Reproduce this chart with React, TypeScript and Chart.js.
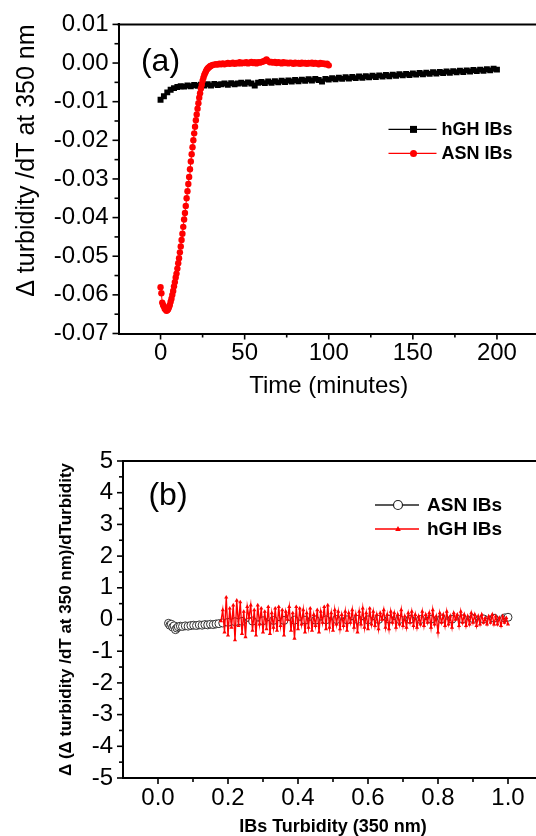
import React, { useEffect, useRef } from 'react';
import { Chart, registerables } from 'chart.js';

Chart.register(...registerables);

const FONT = "Arial, 'Liberation Sans', Helvetica, sans-serif";
const RED = '#ff0000';
const BLACK = '#000000';

// ---------------- Panel (a) ----------------
const timeHGH_A = [0, 2, 4, 6, 8, 10, 12, 14, 16, 18, 20, 22, 24, 26, 28, 30, 32, 34, 36, 38, 40, 42, 44, 46, 48, 50, 52, 54, 56, 58, 60, 62, 64, 66, 68, 70, 72, 74, 76, 78, 80, 82, 84, 86, 88, 90, 92, 94, 96, 98, 100, 102, 104, 106, 108, 110, 112, 114, 116, 118, 120, 122, 124, 126, 128, 130, 132, 134, 136, 138, 140, 142, 144, 146, 148, 150, 152, 154, 156, 158, 160, 162, 164, 166, 168, 170, 172, 174, 176, 178, 180, 182, 184, 186, 188, 190, 192, 194, 196, 198, 200];
const hghA = [-0.0095, -0.0086, -0.0076, -0.0069, -0.0065, -0.0062, -0.0060, -0.0061, -0.0058, -0.0060, -0.0057, -0.0059, -0.0056, -0.0058, -0.0055, -0.0058, -0.0054, -0.0057, -0.0055, -0.0053, -0.0056, -0.0052, -0.0055, -0.0053, -0.0051, -0.0054, -0.0050, -0.0053, -0.0058, -0.0051, -0.0049, -0.0052, -0.0048, -0.0051, -0.0047, -0.0050, -0.0046, -0.0049, -0.0045, -0.0048, -0.0044, -0.0047, -0.0043, -0.0046, -0.0042, -0.0045, -0.0041, -0.0044, -0.0048, -0.0041, -0.0043, -0.0039, -0.0042, -0.0038, -0.0041, -0.0037, -0.0040, -0.0036, -0.0039, -0.0035, -0.0038, -0.0034, -0.0037, -0.0033, -0.0036, -0.0032, -0.0035, -0.0031, -0.0034, -0.0030, -0.0033, -0.0029, -0.0032, -0.0028, -0.0031, -0.0027, -0.0030, -0.0026, -0.0029, -0.0025, -0.0028, -0.0024, -0.0027, -0.0023, -0.0026, -0.0022, -0.0025, -0.0021, -0.0024, -0.0020, -0.0023, -0.0019, -0.0022, -0.0018, -0.0021, -0.0017, -0.0020, -0.0016, -0.0019, -0.0015, -0.0017];
const timeASN_A = [0, 0.5, 1, 1.5, 2, 2.5, 3, 3.5, 4, 4.5, 5, 5.5, 6, 6.5, 7, 7.5, 8, 8.5, 9, 9.5, 10, 10.5, 11, 11.5, 12, 12.5, 13, 13.5, 14, 14.5, 15, 15.5, 16, 16.5, 17, 17.5, 18, 18.5, 19, 19.5, 20, 20.5, 21, 21.5, 22, 22.5, 23, 23.5, 24, 24.5, 25, 25.5, 26, 26.5, 27, 27.5, 28, 28.5, 29, 29.5, 30, 31, 32, 33, 34, 35, 36, 37, 38, 39, 40, 41, 42, 43, 44, 45, 46, 47, 48, 49, 50, 51, 52, 53, 54, 55, 56, 57, 58, 59, 60, 61, 62, 63, 64, 65, 66, 67, 68, 69, 70, 71, 72, 73, 74, 75, 76, 77, 78, 79, 80, 81, 82, 83, 84, 85, 86, 87, 88, 89, 90, 91, 92, 93, 94, 95, 96, 97, 98, 99, 100];
const asnA = [-0.0580, -0.0596, -0.0620, -0.0626, -0.0630, -0.0636, -0.0638, -0.0641, -0.0640, -0.0637, -0.0632, -0.0626, -0.0618, -0.0610, -0.0600, -0.0590, -0.0578, -0.0567, -0.0555, -0.0545, -0.0532, -0.0518, -0.0505, -0.0490, -0.0475, -0.0458, -0.0442, -0.0424, -0.0405, -0.0388, -0.0370, -0.0350, -0.0332, -0.0313, -0.0295, -0.0275, -0.0255, -0.0236, -0.0218, -0.0200, -0.0182, -0.0165, -0.0148, -0.0133, -0.0118, -0.0104, -0.0090, -0.0078, -0.0066, -0.0056, -0.0046, -0.0038, -0.0031, -0.0026, -0.0021, -0.0017, -0.0014, -0.0012, -0.0010, -0.0008, -0.0007, -0.0005, -0.0004, -0.0003, -0.0004, -0.0002, -0.0003, -0.0001, -0.0003, -0.0002, 0.0000, -0.0002, -0.0001, 0.0001, -0.0002, 0.0000, -0.0001, 0.0002, -0.0001, 0.0001, 0.0000, 0.0002, -0.0001, 0.0001, 0.0003, 0.0000, 0.0002, -0.0001, 0.0002, 0.0001, 0.0003, 0.0004, 0.0006, 0.0009, 0.0005, 0.0002, 0.0003, 0.0001, 0.0003, 0.0000, 0.0002, 0.0001, -0.0001, 0.0002, 0.0000, 0.0001, -0.0001, 0.0001, 0.0000, -0.0002, 0.0001, -0.0001, 0.0000, -0.0002, 0.0001, -0.0001, 0.0000, -0.0002, 0.0000, -0.0001, 0.0001, -0.0002, 0.0000, -0.0001, -0.0003, 0.0000, -0.0002, -0.0001, -0.0003, -0.0002, -0.0006];
const xMajorA = [0, 50, 100, 150, 200];
const xMinorA = [25, 75, 125, 175];
const yMajorA = [-0.07, -0.06, -0.05, -0.04, -0.03, -0.02, -0.01, 0, 0.01];
const yMinorA = [-0.065, -0.055, -0.045, -0.035, -0.025, -0.015, -0.005, 0.005];

// ---------------- Panel (b) ----------------
const turbASN_B = [0.030, 0.034, 0.038, 0.042, 0.046, 0.050, 0.054, 0.058, 0.064, 0.070, 0.078, 0.086, 0.094, 0.102, 0.110, 0.118, 0.126, 0.134, 0.142, 0.150, 0.158, 0.166, 0.174, 0.185, 0.200, 0.22, 0.24, 0.27, 0.30, 0.33, 0.36, 0.39, 0.42, 0.45, 0.48, 0.51, 0.54, 0.57, 0.60, 0.63, 0.66, 0.69, 0.72, 0.75, 0.78, 0.81, 0.84, 0.87, 0.90, 0.93, 0.96, 0.99, 1.00];
const asnB = [-0.12, -0.18, -0.15, -0.24, -0.20, -0.32, -0.27, -0.23, -0.21, -0.22, -0.20, -0.21, -0.19, -0.18, -0.19, -0.17, -0.18, -0.16, -0.17, -0.15, -0.16, -0.14, -0.13, -0.11, -0.09, -0.07, -0.06, -0.05, -0.04, -0.03, -0.03, -0.02, -0.02, -0.02, -0.01, 0.00, -0.01, 0.00, -0.01, 0.00, 0.01, 0.00, 0.01, 0.00, 0.01, 0.02, 0.01, 0.02, 0.03, 0.02, 0.04, 0.05, 0.07];
const turbHGH_B = [0.180, 0.185, 0.190, 0.195, 0.200, 0.205, 0.210, 0.215, 0.220, 0.225, 0.230, 0.235, 0.240, 0.245, 0.250, 0.255, 0.260, 0.265, 0.270, 0.275, 0.280, 0.285, 0.290, 0.295, 0.300, 0.305, 0.310, 0.315, 0.320, 0.325, 0.330, 0.335, 0.340, 0.345, 0.350, 0.355, 0.360, 0.365, 0.370, 0.375, 0.380, 0.385, 0.390, 0.395, 0.400, 0.405, 0.410, 0.415, 0.420, 0.425, 0.430, 0.435, 0.440, 0.445, 0.450, 0.455, 0.460, 0.465, 0.470, 0.475, 0.480, 0.485, 0.490, 0.495, 0.500, 0.505, 0.510, 0.515, 0.520, 0.525, 0.530, 0.535, 0.540, 0.545, 0.550, 0.555, 0.560, 0.565, 0.570, 0.575, 0.580, 0.585, 0.590, 0.595, 0.600, 0.605, 0.610, 0.615, 0.620, 0.625, 0.630, 0.635, 0.640, 0.645, 0.650, 0.655, 0.660, 0.665, 0.670, 0.675, 0.680, 0.685, 0.690, 0.695, 0.700, 0.705, 0.710, 0.715, 0.720, 0.725, 0.730, 0.735, 0.740, 0.745, 0.750, 0.755, 0.760, 0.765, 0.770, 0.775, 0.780, 0.785, 0.790, 0.795, 0.800, 0.805, 0.810, 0.815, 0.820, 0.825, 0.830, 0.835, 0.840, 0.845, 0.850, 0.855, 0.860, 0.865, 0.870, 0.875, 0.880, 0.885, 0.890, 0.895, 0.900, 0.905, 0.910, 0.915, 0.920, 0.925, 0.930, 0.935, 0.940, 0.945, 0.950, 0.955, 0.960, 0.965, 0.970, 0.975, 0.980, 0.985, 0.990, 0.995, 1.000];
const hghB = [-0.05, 0.30, -0.40, 0.70, -0.50, 0.35, -0.25, 0.45, -0.65, 0.60, -0.20, 0.55, -0.45, 0.25, -0.55, 0.40, 0.05, 0.45, -0.35, 0.30, -0.50, 0.45, -0.15, 0.35, -0.40, 0.25, -0.30, 0.40, -0.45, 0.20, -0.25, 0.35, -0.35, 0.40, -0.20, 0.30, -0.50, 0.25, 0.00, 0.40, -0.35, 0.20, -0.60, 0.40, -0.30, 0.35, -0.15, 0.30, -0.40, 0.20, -0.25, 0.35, -0.35, 0.15, -0.20, 0.30, -0.40, 0.25, -0.10, 0.40, -0.30, 0.45, -0.25, 0.20, -0.35, 0.30, -0.15, 0.25, -0.30, 0.15, -0.20, 0.25, -0.35, 0.20, -0.10, 0.30, -0.25, 0.15, -0.40, 0.25, -0.15, 0.35, -0.25, 0.20, -0.30, 0.35, -0.15, 0.25, -0.20, 0.15, -0.30, 0.20, 0.00, 0.30, -0.25, 0.15, -0.30, 0.25, -0.10, 0.20, -0.25, 0.15, -0.15, 0.30, -0.20, 0.10, -0.25, 0.20, -0.10, 0.25, -0.20, 0.15, -0.25, 0.10, -0.15, 0.25, -0.20, 0.15, -0.10, 0.20, -0.25, 0.30, -0.15, 0.10, -0.40, 0.20, -0.10, 0.15, -0.20, 0.25, -0.15, 0.10, -0.25, 0.20, 0.00, 0.15, -0.20, 0.25, -0.10, 0.15, -0.20, 0.10, -0.15, 0.20, -0.10, 0.15, -0.20, 0.10, -0.15, 0.15, -0.10, 0.05, -0.15, 0.10, -0.10, 0.15, -0.15, 0.10, -0.15, 0.05, -0.20, 0.10, -0.10, 0.05, -0.15];
const xMajorB = [0, 0.2, 0.4, 0.6, 0.8, 1.0];
const xMinorB = [0.1, 0.3, 0.5, 0.7, 0.9];
const yMajorB = [-5, -4, -3, -2, -1, 0, 1, 2, 3, 4, 5];
const yMinorB = [-4.5, -3.5, -2.5, -1.5, -0.5, 0.5, 1.5, 2.5, 3.5, 4.5];

type Marker = 'rect' | 'circle' | 'openCircle' | 'triangle';
interface LegendItem { label: string; color: string; marker: Marker }
interface Overlay {
  xMajor: number[]; xMinor: number[]; yMajor: number[]; yMinor: number[];
  tag: string; tagDx: number; tagDy: number; tagFont: string;
  legend: LegendItem[];
  legDx: number; legDy: number; legLine: number; legMarkDx: number; legTextDx: number; legRow: number; legFont: string;
}

function drawMarker(ctx: CanvasRenderingContext2D, m: Marker, x: number, y: number, color: string) {
  ctx.save();
  ctx.fillStyle = color;
  ctx.strokeStyle = color;
  if (m === 'rect') {
    ctx.fillRect(x - 3.5, y - 3.5, 7, 7);
  } else if (m === 'circle') {
    ctx.beginPath(); ctx.arc(x, y, 3.5, 0, Math.PI * 2); ctx.fill();
  } else if (m === 'openCircle') {
    ctx.beginPath(); ctx.arc(x, y, 4.5, 0, Math.PI * 2);
    ctx.fillStyle = '#ffffff'; ctx.fill();
    ctx.lineWidth = 1.2; ctx.strokeStyle = '#222222'; ctx.stroke();
  } else {
    ctx.beginPath(); ctx.moveTo(x, y - 3); ctx.lineTo(x + 2.8, y + 2); ctx.lineTo(x - 2.8, y + 2); ctx.closePath(); ctx.fill();
  }
  ctx.restore();
}

function overlayPlugin(o: Overlay) {
  return {
    id: 'overlay',
    afterDraw(chart: any) {
      const { ctx, chartArea: a, scales } = chart;
      const xs = scales.x, ys = scales.y;
      ctx.save();
      ctx.strokeStyle = BLACK;
      ctx.lineWidth = 2;
      ctx.beginPath();
      ctx.moveTo(a.left - 1, a.top);
      ctx.lineTo(a.right, a.top);
      ctx.lineTo(a.right, a.bottom);
      ctx.stroke();
      ctx.lineWidth = 1.6;
      const tick = (x1: number, y1: number, x2: number, y2: number) => {
        ctx.beginPath(); ctx.moveTo(x1, y1); ctx.lineTo(x2, y2); ctx.stroke();
      };
      o.xMajor.forEach(v => { const p = xs.getPixelForValue(v); tick(p, a.bottom, p, a.bottom + 6); });
      o.xMinor.forEach(v => { const p = xs.getPixelForValue(v); tick(p, a.bottom, p, a.bottom + 4); });
      o.yMajor.forEach(v => { const p = ys.getPixelForValue(v); tick(a.left, p, a.left - 6, p); });
      o.yMinor.forEach(v => { const p = ys.getPixelForValue(v); tick(a.left, p, a.left - 4, p); });
      // panel tag
      ctx.fillStyle = BLACK;
      ctx.font = o.tagFont;
      ctx.textAlign = 'center';
      ctx.textBaseline = 'middle';
      ctx.fillText(o.tag, a.left + o.tagDx, a.top + o.tagDy);
      // legend
      ctx.font = o.legFont;
      ctx.textAlign = 'left';
      o.legend.forEach((it, i) => {
        const y = a.top + o.legDy + i * o.legRow;
        const x0 = a.left + o.legDx;
        ctx.strokeStyle = it.marker === 'openCircle' ? '#222222' : it.color;
        ctx.lineWidth = 1.3;
        tick(x0, y, x0 + o.legLine, y);
        drawMarker(ctx, it.marker, x0 + o.legMarkDx, y, it.color);
        ctx.fillStyle = BLACK;
        ctx.fillText(it.label, a.left + o.legTextDx, y + 1);
      });
      ctx.restore();
    },
  };
}

const pts = (xs: number[], ys: number[]) => xs.map((x, i) => ({ x, y: ys[i] }));

function configA(): any {
  return {
    type: 'scatter',
    data: {
      datasets: [
        {
          label: 'ASN IBs', data: pts(timeASN_A, asnA), showLine: true,
          borderColor: RED, backgroundColor: RED, borderWidth: 1,
          pointStyle: 'circle', pointRadius: 3.2, pointBorderWidth: 0, order: 0,
        },
        {
          label: 'hGH IBs', data: pts(timeHGH_A, hghA), showLine: true,
          borderColor: BLACK, backgroundColor: BLACK, borderWidth: 1,
          pointStyle: 'rect', pointRadius: 4.2, pointBorderWidth: 0, order: 1,
        },
      ],
    },
    options: {
      responsive: false, animation: false, events: [],
      layout: { padding: { top: 20.5, right: 21, left: 0, bottom: 0 } },
      plugins: { legend: { display: false }, tooltip: { enabled: false } },
      scales: {
        x: {
          type: 'linear', min: -25, max: 225,
          afterBuildTicks: (s: any) => { s.ticks = xMajorA.map(v => ({ value: v })); },
          afterFit: (s: any) => { s.height = 86.5; },
          grid: { display: false, drawTicks: false },
          border: { display: true, color: BLACK, width: 2 },
          ticks: { font: { family: FONT, size: 24 }, color: BLACK, padding: 5, maxRotation: 0, autoSkip: false, callback: (v: any) => String(v) },
          title: { display: true, text: 'Time (minutes)', font: { family: FONT, size: 24 }, color: BLACK, padding: { top: 0, bottom: 19 } },
        },
        y: {
          type: 'linear', min: -0.07, max: 0.01,
          afterBuildTicks: (s: any) => { s.ticks = yMajorA.map(v => ({ value: v })); },
          afterFit: (s: any) => { s.width = 118.5; },
          grid: { display: false, drawTicks: false },
          border: { display: true, color: BLACK, width: 2 },
          ticks: { font: { family: FONT, size: 24 }, color: BLACK, padding: 10, autoSkip: false, callback: (v: any) => (Math.abs(v) < 1e-9 ? '0.00' : Number(v).toFixed(2)) },
          title: { display: true, text: 'Δ turbidity /dT at 350 nm', align: 'end', font: { family: FONT, size: 25 }, color: BLACK, padding: { top: 12, bottom: 0 } },
        },
      },
    },
    plugins: [overlayPlugin({
      xMajor: xMajorA, xMinor: xMinorA, yMajor: yMajorA, yMinor: yMinorA,
      tag: '(a)', tagDx: 42, tagDy: 38, tagFont: `32px ${FONT}`,
      legend: [
        { label: 'hGH IBs', color: BLACK, marker: 'rect' },
        { label: 'ASN IBs', color: RED, marker: 'circle' },
      ],
      legDx: 270, legDy: 105, legLine: 48, legMarkDx: 25, legTextDx: 323, legRow: 24, legFont: `bold 18px ${FONT}`,
    })],
  };
}

function configB(): any {
  return {
    type: 'scatter',
    data: {
      datasets: [
        {
          label: 'hGH IBs', data: pts(turbHGH_B, hghB), showLine: true,
          borderColor: RED, backgroundColor: RED, borderWidth: 1.4,
          pointStyle: 'triangle', pointRadius: 2.4, pointBorderWidth: 0, order: 0,
        },
        {
          label: 'ASN IBs', data: pts(turbASN_B, asnB), showLine: true,
          borderColor: '#222222', backgroundColor: '#ffffff', borderWidth: 1,
          pointStyle: 'circle', pointRadius: 4, pointBorderWidth: 1, pointBorderColor: '#333333', pointBackgroundColor: '#ffffff', order: 1,
        },
      ],
    },
    options: {
      responsive: false, animation: false, events: [],
      layout: { padding: { top: 31, right: 17, left: 0, bottom: 0 } },
      plugins: { legend: { display: false }, tooltip: { enabled: false } },
      scales: {
        x: {
          type: 'linear', min: -0.1, max: 1.1,
          afterBuildTicks: (s: any) => { s.ticks = xMajorB.map(v => ({ value: v })); },
          afterFit: (s: any) => { s.height = 72; },
          grid: { display: false, drawTicks: false },
          border: { display: true, color: BLACK, width: 2 },
          ticks: { font: { family: FONT, size: 24 }, color: BLACK, padding: 6, maxRotation: 0, autoSkip: false, callback: (v: any) => Number(v).toFixed(1) },
          title: { display: true, text: 'IBs Turbidity (350 nm)', font: { family: FONT, size: 18, weight: 'bold' }, color: BLACK, padding: { top: 0, bottom: 12 } },
        },
        y: {
          type: 'linear', min: -5, max: 5,
          afterBuildTicks: (s: any) => { s.ticks = yMajorB.map(v => ({ value: v })); },
          afterFit: (s: any) => { s.width = 123; },
          grid: { display: false, drawTicks: false },
          border: { display: true, color: BLACK, width: 2 },
          ticks: { font: { family: FONT, size: 24 }, color: BLACK, padding: 10, autoSkip: false, callback: (v: any) => String(v) },
          title: { display: true, text: 'Δ (Δ turbidity /dT at 350 nm)/dTurbidity', font: { family: FONT, size: 17, weight: 'bold' }, color: BLACK, padding: { top: 56, bottom: 0 } },
        },
      },
    },
    plugins: [overlayPlugin({
      xMajor: xMajorB, xMinor: xMinorB, yMajor: yMajorB, yMinor: yMinorB,
      tag: '(b)', tagDx: 45, tagDy: 35, tagFont: `32px ${FONT}`,
      legend: [
        { label: 'ASN IBs', color: '#ffffff', marker: 'openCircle' },
        { label: 'hGH IBs', color: RED, marker: 'triangle' },
      ],
      legDx: 252, legDy: 44, legLine: 44, legMarkDx: 23, legTextDx: 304, legRow: 24, legFont: `bold 19px ${FONT}`,
    })],
  };
}

function Panel({ make, top, height }: { make: () => any; top: number; height: number }) {
  const ref = useRef<HTMLCanvasElement>(null);
  useEffect(() => {
    const chart = new Chart(ref.current as HTMLCanvasElement, make());
    return () => chart.destroy();
  }, []);
  return (
    <canvas
      ref={ref}
      width={560}
      height={height}
      style={{ position: 'absolute', left: 0, top, width: 560, height }}
    />
  );
}

export default function App() {
  return (
    <div style={{ position: 'absolute', left: 0, top: 0, width: 536, height: 836, overflow: 'hidden', background: '#ffffff' }}>
      <Panel make={configA} top={0} height={420} />
      <Panel make={configB} top={430} height={420} />
    </div>
  );
}
